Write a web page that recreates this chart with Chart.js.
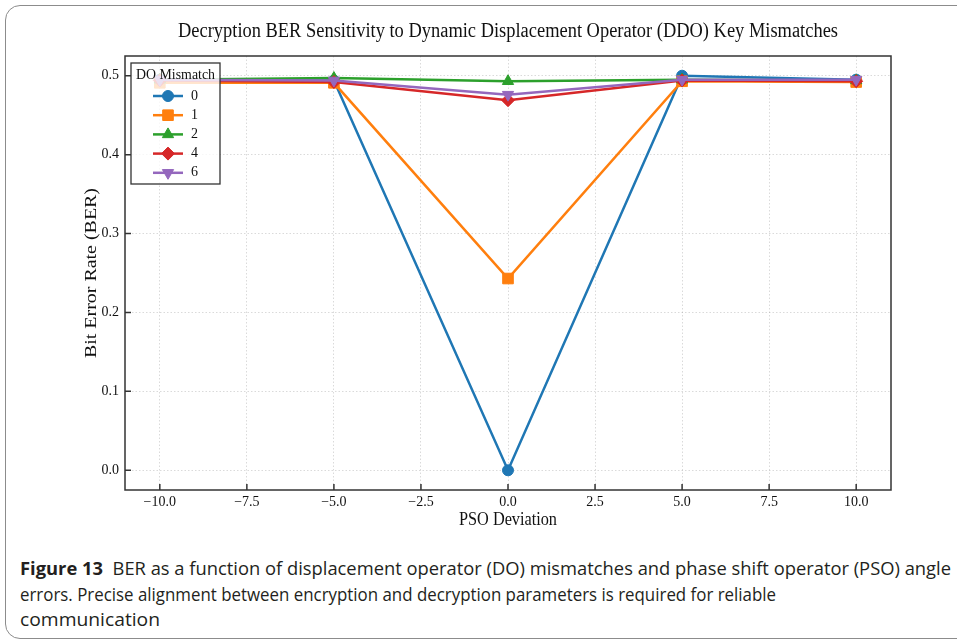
<!DOCTYPE html>
<html>
<head>
<meta charset="utf-8">
<script src="https://cdn.jsdelivr.net/npm/chart.js@4/dist/chart.umd.min.js"></script>
<style>
  html, body { margin: 0; padding: 0; background: #fff; width: 957px; height: 642px; overflow: hidden; }
  .card { position: absolute; left: 5px; top: 5px; width: 1000px; height: 634px; border: 1.5px solid #8c8c8c; border-radius: 15px; box-sizing: border-box; }
  #wrap { position: absolute; left: 0; top: 0; width: 957px; height: 540px; }
  .cap { position: absolute; left: 20px; font-family: 'Open Sans', sans-serif; font-size: 17.5px; line-height: 22px; color: #231f20; white-space: nowrap; transform-origin: 0 0; }
  .cap b { font-weight: 700; }
</style>
</head>
<body>
<div class="card"></div>
<div id="wrap"><canvas id="c" width="957" height="540"></canvas></div>
<div class="cap" style="top:557px" data-w="931"><b>Figure 13</b>&nbsp; BER as a function of displacement operator (DO) mismatches and phase shift operator (PSO) angle</div>
<div class="cap" style="top:582.5px" data-w="756">errors. Precise alignment between encryption and decryption parameters is required for reliable</div>
<div class="cap" style="top:608px" data-w="140">communication</div>
<script>
// PSO deviation values and BER for each DO mismatch level
const psoDeviation = [-10, -5, 0, 5, 10];
const mismatchLevels = ['0', '1', '2', '4', '6'];
const berMismatch0 = [0.495, 0.494, 0.000, 0.500, 0.495];
const berMismatch1 = [0.491, 0.491, 0.243, 0.493, 0.492];
const berMismatch2 = [0.495, 0.497, 0.493, 0.495, 0.494];
const berMismatch4 = [0.494, 0.492, 0.469, 0.494, 0.493];
const berMismatch6 = [0.495, 0.494, 0.476, 0.495, 0.495];
const xTickValues = [-10, -7.5, -5, -2.5, 0, 2.5, 5, 7.5, 10];
const yTickValues = [0.0, 0.1, 0.2, 0.3, 0.4, 0.5];

const seriesValues = [berMismatch0, berMismatch1, berMismatch2, berMismatch4, berMismatch6];
const colors = ['#1f77b4', '#ff7f0e', '#2ca02c', '#d62728', '#9467bd'];
const markers = [
  { style: 'circle', radius: 5.5, rotation: 0 },
  { style: 'rect', radius: 7.5, rotation: 0 },
  { style: 'triangle', radius: 6.5, rotation: 0 },
  { style: 'rectRot', radius: 6.5, rotation: 0 },
  { style: 'triangle', radius: 6.5, rotation: 180 }
];

const SERIF = "'Liberation Serif', 'Times New Roman', serif";
const fmt = v => v.toFixed(1).replace('-', '\u2212');

const datasets = seriesValues.map((vals, i) => ({
  label: mismatchLevels[i],
  data: psoDeviation.map((x, j) => ({ x: x, y: vals[j] })),
  borderColor: colors[i],
  backgroundColor: colors[i],
  borderWidth: 2.5,
  pointStyle: markers[i].style,
  pointRadius: markers[i].radius,
  pointRotation: markers[i].rotation,
  pointBorderWidth: 1,
  pointBorderColor: colors[i],
  pointBackgroundColor: colors[i],
  tension: 0,
  order: seriesValues.length - 1 - i,
  clip: false
}));

function markerAt(ctx, m, color, x, y) {
  ctx.save();
  ctx.fillStyle = color;
  ctx.strokeStyle = color;
  ctx.lineWidth = 1;
  if (Chart.helpers && Chart.helpers.drawPoint) {
    Chart.helpers.drawPoint(ctx, { pointStyle: m.style, radius: m.radius, rotation: m.rotation, borderWidth: 1 }, x, y);
  } else {
    ctx.beginPath(); ctx.arc(x, y, m.radius, 0, Math.PI * 2); ctx.fill();
  }
  ctx.restore();
}

// text squeezed horizontally to a given width
function fitText(ctx, text, x, y, width) {
  const natural = ctx.measureText(text).width;
  ctx.save();
  ctx.translate(x, y);
  ctx.scale(width / natural, 1);
  ctx.fillText(text, 0, 0);
  ctx.restore();
}

const decorations = {
  id: 'decorations',
  afterDatasetsDraw(chart) {
    const { ctx, chartArea: a, scales } = chart;
    ctx.save();
    // axes frame
    ctx.strokeStyle = '#333';
    ctx.lineWidth = 1.5;
    ctx.strokeRect(a.left, a.top, a.right - a.left, a.bottom - a.top);
    // inward ticks
    ctx.beginPath();
    xTickValues.forEach(v => {
      const px = scales.x.getPixelForValue(v);
      ctx.moveTo(px, a.bottom); ctx.lineTo(px, a.bottom - 6);
    });
    yTickValues.forEach(v => {
      const py = scales.y.getPixelForValue(v);
      ctx.moveTo(a.left, py); ctx.lineTo(a.left + 6, py);
    });
    ctx.stroke();

    // titles
    ctx.fillStyle = '#111';
    ctx.textAlign = 'center';
    ctx.textBaseline = 'middle';
    ctx.font = '20px ' + SERIF;
    fitText(ctx, 'Decryption BER Sensitivity to Dynamic Displacement Operator (DDO) Key Mismatches', (a.left + a.right) / 2, 32, 660);
    ctx.font = '18px ' + SERIF;
    fitText(ctx, 'PSO Deviation', (a.left + a.right) / 2, 520, 98);
    ctx.save();
    ctx.translate(91, (a.top + a.bottom) / 2);
    ctx.rotate(-Math.PI / 2);
    ctx.scale(1, 0.88);
    ctx.font = '20px ' + SERIF;
    fitText(ctx, 'Bit Error Rate (BER)', 0, 0, 170);
    ctx.restore();

    // legend
    const lx = a.left + 6, ly = a.top + 7, lw = 89, lh = 121;
    ctx.fillStyle = 'rgba(255,255,255,0.8)';
    ctx.fillRect(lx, ly, lw, lh);
    ctx.strokeStyle = '#333';
    ctx.lineWidth = 1.3;
    ctx.strokeRect(lx, ly, lw, lh);
    ctx.fillStyle = '#111';
    ctx.font = '15px ' + SERIF;
    ctx.textAlign = 'center';
    fitText(ctx, 'DO Mismatch', lx + lw / 2, ly + 12, 79);
    ctx.font = '14px ' + SERIF;
    ctx.textAlign = 'left';
    mismatchLevels.forEach((lab, i) => {
      const ry = ly + 33 + i * 19.2;
      ctx.strokeStyle = colors[i];
      ctx.lineWidth = 2.5;
      ctx.beginPath(); ctx.moveTo(lx + 22, ry); ctx.lineTo(lx + 52, ry); ctx.stroke();
      markerAt(ctx, markers[i], colors[i], lx + 37, ry);
      ctx.fillStyle = '#111';
      ctx.fillText(lab, lx + 60, ry);
    });
    ctx.restore();
  }
};

new Chart(document.getElementById('c'), {
  type: 'line',
  data: { datasets },
  options: {
    responsive: false,
    animation: false,
    devicePixelRatio: 1,
    layout: { padding: { top: 56, right: 66, left: 0, bottom: 0 } },
    plugins: { legend: { display: false }, title: { display: false }, tooltip: { enabled: false } },
    scales: {
      x: {
        type: 'linear', min: -11, max: 11,
        afterBuildTicks: s => { s.ticks = xTickValues.map(v => ({ value: v })); },
        afterFit: s => { s.height = 50; },
        ticks: { callback: v => fmt(v), color: '#111', font: { family: SERIF, size: 14 }, padding: 4, maxRotation: 0, autoSkip: false },
        grid: { color: 'rgba(150,150,150,0.45)', lineWidth: 0.8, drawTicks: false },
        border: { display: false, dash: [1.5, 2] }
      },
      y: {
        type: 'linear', min: -0.025, max: 0.525,
        afterBuildTicks: s => { s.ticks = yTickValues.map(v => ({ value: v })); },
        afterFit: s => { s.width = 125; },
        ticks: { callback: v => fmt(v), color: '#111', font: { family: SERIF, size: 14 }, padding: 6, autoSkip: false },
        grid: { color: 'rgba(150,150,150,0.45)', lineWidth: 0.8, drawTicks: false },
        border: { display: false, dash: [1.5, 2] }
      }
    }
  },
  plugins: [decorations]
});

// each caption line spans its own measured width
document.querySelectorAll('.cap').forEach(el => {
  const w = el.getBoundingClientRect().width;
  el.style.transform = 'scaleX(' + (parseFloat(el.dataset.w) / w) + ')';
});
</script>
</body>
</html>
